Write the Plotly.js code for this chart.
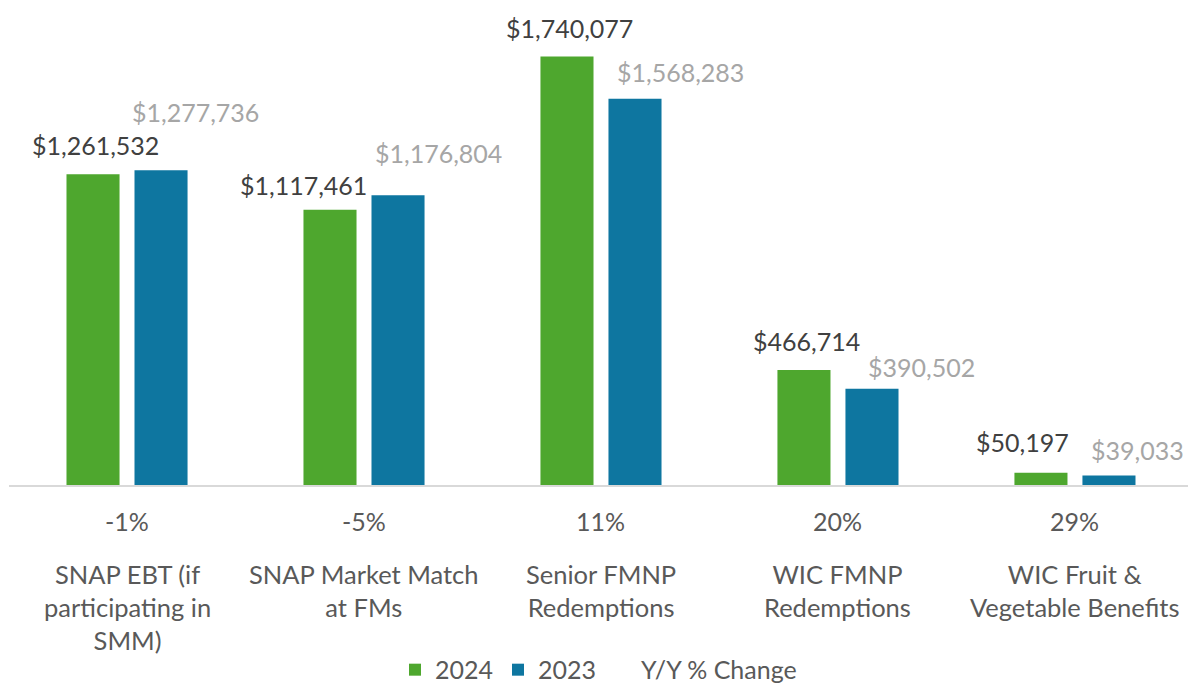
<!DOCTYPE html>
<html>
<head>
<meta charset="utf-8">
<script src="https://cdn.plot.ly/plotly-3.0.1.min.js"></script>
<style>html,body{margin:0;padding:0;background:#fff;}#chart{width:1188px;height:685px;}</style>
</head>
<body>
<div id="chart"></div>
<script>
// ---- data ----
const categories = [
  "SNAP EBT (if<br>participating in<br>SMM)",
  "SNAP Market Match<br>at FMs",
  "Senior FMNP<br>Redemptions",
  "WIC FMNP<br>Redemptions",
  "WIC Fruit &<br>Vegetable Benefits"
];
const values2024 = [1261532, 1117461, 1740077, 466714, 50197];
const values2023 = [1277736, 1176804, 1568283, 390502, 39033];
const yoyChange = [-1, -5, 11, 20, 29];

// ---- label placement (pixel offsets from bar tops) ----
const off2024 = [[2, -29], [-27, -25], [3, -29], [3, -29], [-18, -31]];
const off2023 = [[34, -58], [40, -42], [45, -27], [50, -22], [29, -25]];

const GREEN = "#4EA72E", BLUE = "#0E76A0";
const FONT = "Lato, 'Open Sans', sans-serif";
const fmt = v => "$" + v.toLocaleString("en-US");
const idx = categories.map((_, i) => i);
const half = 0.1435;

const traces = [
  {type: "bar", name: "2024", x: idx, y: values2024, marker: {color: GREEN}, hoverinfo: "skip"},
  {type: "bar", name: "2023", x: idx, y: values2023, marker: {color: BLUE}, hoverinfo: "skip"},
  {type: "scatter", mode: "markers", name: "Y/Y % Change", x: idx, y: yoyChange,
   marker: {color: "rgba(0,0,0,0)", size: 1}, hoverinfo: "skip"}
];

const annotations = [];
idx.forEach(i => {
  annotations.push({x: i - half, y: values2024[i], xref: "x", yref: "y", text: fmt(values2024[i]),
    showarrow: false, xanchor: "center", yanchor: "middle",
    xshift: off2024[i][0], yshift: -off2024[i][1],
    font: {family: FONT, size: 25, color: "#404040"}});
  annotations.push({x: i + half, y: values2023[i], xref: "x", yref: "y", text: fmt(values2023[i]),
    showarrow: false, xanchor: "center", yanchor: "middle",
    xshift: off2023[i][0], yshift: -off2023[i][1],
    font: {family: FONT, size: 25, color: "#A6A6A6"}});
  annotations.push({x: i, y: 0, xref: "x", yref: "paper", text: yoyChange[i] + "%",
    showarrow: false, xanchor: "center", yanchor: "middle", yshift: -36,
    font: {family: FONT, size: 25, color: "#595959"}});
  annotations.push({x: i, y: 0, xref: "x", yref: "paper", text: categories[i],
    showarrow: false, xanchor: "center", yanchor: "top", yshift: -72,
    font: {family: FONT, size: 25.5, color: "#595959"}});
});

const layout = {
  width: 1188, height: 685,
  margin: {l: 9, r: 0, t: 10, b: 200},
  paper_bgcolor: "#fff", plot_bgcolor: "#fff",
  font: {family: FONT, size: 25, color: "#595959"},
  barmode: "group", bargap: 0.426, bargroupgap: 0.22,
  xaxis: {range: [-0.498, 4.477], showticklabels: false, ticks: "", showgrid: false,
          zeroline: false, showline: true, linecolor: "#D9D9D9", linewidth: 1.5, fixedrange: true},
  yaxis: {range: [0, 1929000], visible: false, showgrid: false, zeroline: false, fixedrange: true},
  showlegend: true,
  legend: {orientation: "h", x: 0.5, xanchor: "center", y: 0.022, yanchor: "middle",
           yref: "container", font: {family: FONT, size: 25, color: "#595959"}},
  annotations: annotations
};

Plotly.newPlot("chart", traces, layout, {displayModeBar: false, staticPlot: true});
</script>
</body>
</html>
